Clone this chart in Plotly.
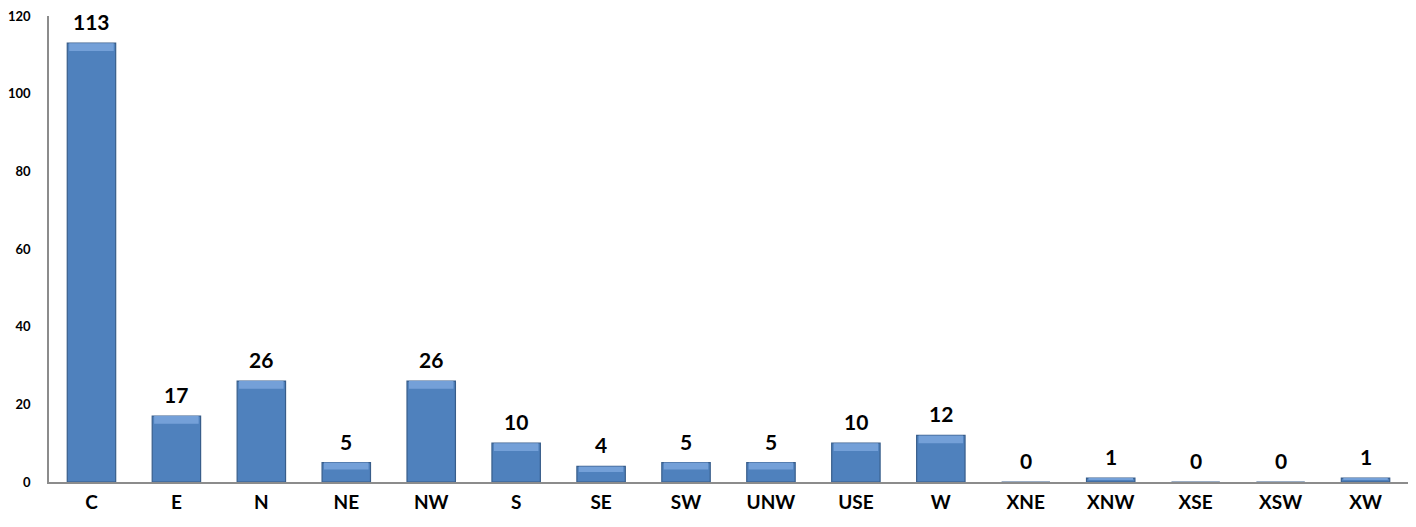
import plotly.graph_objects as go

categories = ["C", "E", "N", "NE", "NW", "S", "SE", "SW", "UNW", "USE", "W", "XNE", "XNW", "XSE", "XSW", "XW"]
values = [113, 17, 26, 5, 26, 10, 4, 5, 5, 10, 12, 0, 1, 0, 0, 1]
y_ticks = [0, 20, 40, 60, 80, 100, 120]

FONT = "Lato, 'Open Sans', sans-serif"
BAR_W = 0.57

# top bevel strip derived from the values
bevel_h = [min(2.0, v * 0.35) for v in values]
bevel_base = [v - h for v, h in zip(values, bevel_h)]

fig = go.Figure()
fig.add_trace(go.Bar(
    x=categories, y=values,
    marker=dict(color="#4F81BD", line=dict(color="#385D8A", width=1.2)),
    width=BAR_W, hoverinfo="x+y",
))
fig.add_trace(go.Bar(
    x=categories, y=bevel_h, base=bevel_base,
    marker=dict(color="#74A0D8", line=dict(width=0)),
    width=BAR_W * 0.92, hoverinfo="skip",
))

for c, v in zip(categories, values):
    fig.add_annotation(
        x=c, y=v, text=str(v), showarrow=False,
        yanchor="bottom", yshift=7,
        font=dict(family=FONT, size=21, color="#000000", weight="bold"),
    )

fig.update_layout(
    width=1416, height=527,
    margin=dict(l=49, r=8, t=14, b=45),
    paper_bgcolor="white", plot_bgcolor="white",
    showlegend=False, barmode="overlay",
    font=dict(family=FONT),
    xaxis=dict(
        showline=True, linecolor="#8C8C8C", linewidth=1.5,
        showgrid=False, ticks="", ticklabelstandoff=2,
        tickfont=dict(family=FONT, size=19, color="#000000", weight="bold"),
    ),
    yaxis=dict(
        range=[0, 120], tickvals=y_ticks,
        showline=True, linecolor="#8C8C8C", linewidth=1.5,
        showgrid=False, zeroline=False, ticks="", ticklabelstandoff=14,
        ticklabeloverflow="allow",
        tickfont=dict(family=FONT, size=13, color="#000000", weight="bold"),
    ),
)

fig.write_html(
    "out.html",
    config={"displayModeBar": False},
    post_script="document.body.style.margin='0';document.body.style.overflow='hidden';",
)
